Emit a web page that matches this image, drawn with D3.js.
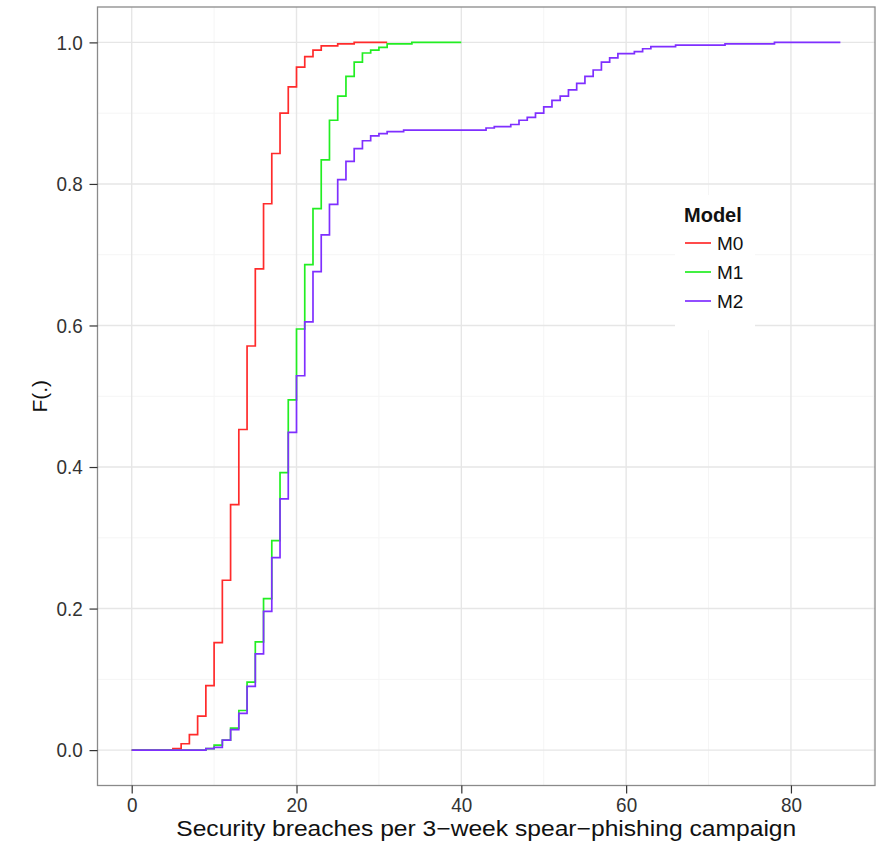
<!DOCTYPE html>
<html lang="en">
<head>
<meta charset="utf-8">
<title>ECDF of security breaches</title>
<script src="https://d3js.org/d3.v7.min.js"></script>
<style>
  body { margin: 0; background: #fff; }
  svg text { font-family: "Liberation Sans", Arial, sans-serif; }
  .axis path { display: none; }
  .axis line { stroke: #333; stroke-width: 1.2px; }
  .axis text { fill: #333; font-size: 21px; }
  .grid-major line { stroke: #e6e6e6; stroke-width: 1.4px; }
  .grid-minor line { stroke: #f5f5f5; stroke-width: 1px; }
  .ecdf { fill: none; stroke-width: 1.7px; }
</style>
</head>
<body>
<script>
// step positions (breaches) and cumulative proportions
const m0X = [0, 5, 6, 7, 8, 9, 10, 11, 12, 13, 14, 15, 16, 17, 18, 19, 20, 21, 22, 23, 25, 27, 31];
const m0F = [0, 0.002, 0.009, 0.022, 0.048, 0.091, 0.152, 0.24, 0.347, 0.453, 0.571, 0.68, 0.772, 0.843, 0.9, 0.937, 0.965, 0.98, 0.989, 0.995, 0.998, 1.0, 1.0];

const m1X = [0, 9, 10, 11, 12, 13, 14, 15, 16, 17, 18, 19, 20, 21, 22, 23, 24, 25, 26, 27, 28, 29, 30, 31, 34, 40];
const m1F = [0, 0.002, 0.007, 0.014, 0.031, 0.056, 0.096, 0.153, 0.214, 0.296, 0.392, 0.495, 0.595, 0.686, 0.765, 0.834, 0.89, 0.924, 0.952, 0.972, 0.985, 0.989, 0.993, 0.998, 1.0, 1.0];

const m2X = [0, 9, 10, 11, 12, 13, 14, 15, 16, 17, 18, 19, 20, 21, 22, 23, 24, 25, 26, 27, 28, 29, 30, 31, 33,
             43, 44, 46, 47, 48, 49, 50, 51, 52, 53, 54, 55, 56, 57, 58, 59, 61, 62, 63, 66, 72, 78, 86];
const m2F = [0, 0.002, 0.004, 0.014, 0.029, 0.052, 0.09, 0.136, 0.196, 0.272, 0.355, 0.449, 0.529, 0.605, 0.676, 0.728, 0.771, 0.806, 0.832, 0.85, 0.861, 0.868, 0.871, 0.874, 0.876,
             0.879, 0.881, 0.884, 0.89, 0.894, 0.9, 0.909, 0.918, 0.924, 0.933, 0.942, 0.952, 0.961, 0.972, 0.978, 0.984, 0.987, 0.991, 0.994, 0.996, 0.998, 1.0, 1.0];

const models = ["M0", "M1", "M2"];
const colors = ["#ff2b2b", "#22ee22", "#7f2fff"];
const xTicks = [0, 20, 40, 60, 80];
const xMinor = [10, 30, 50, 70, 90];
const yTicks = [0, 0.2, 0.4, 0.6, 0.8, 1.0];
const yMinor = [0.1, 0.3, 0.5, 0.7, 0.9];

const w = 881, h = 844;
const padL = 97.5, padR = 875, padT = 7, padB = 785.5;

const series = [
  { name: models[0], color: colors[0], pts: m0X.map((x, i) => ({ x: x, f: m0F[i] })) },
  { name: models[1], color: colors[1], pts: m1X.map((x, i) => ({ x: x, f: m1F[i] })) },
  { name: models[2], color: colors[2], pts: m2X.map((x, i) => ({ x: x, f: m2F[i] })) }
];

const xScale = d3.scaleLinear().domain([-4.15, 90.2]).range([padL, padR]);
const yScale = d3.scaleLinear().domain([-0.05, 1.05]).range([padB, padT]);

const svg = d3.select("body").append("svg")
  .attr("width", w)
  .attr("height", h);

// grid lines
svg.append("g").attr("class", "grid-minor")
  .selectAll("line").data(xMinor).join("line")
  .attr("x1", d => xScale(d)).attr("x2", d => xScale(d))
  .attr("y1", padT).attr("y2", padB);
svg.append("g").attr("class", "grid-minor")
  .selectAll("line").data(yMinor).join("line")
  .attr("y1", d => yScale(d)).attr("y2", d => yScale(d))
  .attr("x1", padL).attr("x2", padR);
svg.append("g").attr("class", "grid-major")
  .selectAll("line").data(xTicks).join("line")
  .attr("x1", d => xScale(d)).attr("x2", d => xScale(d))
  .attr("y1", padT).attr("y2", padB);
svg.append("g").attr("class", "grid-major")
  .selectAll("line").data(yTicks).join("line")
  .attr("y1", d => yScale(d)).attr("y2", d => yScale(d))
  .attr("x1", padL).attr("x2", padR);

// step curves
const line = d3.line()
  .curve(d3.curveStepAfter)
  .x(d => xScale(d.x))
  .y(d => yScale(d.f));

svg.append("g")
  .selectAll("path").data(series).join("path")
  .attr("class", "ecdf")
  .attr("stroke", d => d.color)
  .attr("d", d => line(d.pts));

// legend
const lg = svg.append("g").attr("transform", "translate(675,195)");
lg.append("rect").attr("width", 80).attr("height", 135).attr("fill", "#fff");
lg.append("text").attr("x", 9).attr("y", 27)
  .attr("font-size", 20).attr("font-weight", "bold").attr("fill", "#111")
  .text("Model");
const items = lg.selectAll(".item").data(series).join("g")
  .attr("class", "item")
  .attr("transform", (d, i) => `translate(0,${48 + i * 29})`);
items.append("line")
  .attr("x1", 10).attr("x2", 36)
  .attr("stroke", d => d.color).attr("stroke-width", 1.7);
items.append("text").attr("x", 42).attr("y", 7)
  .attr("font-size", 19).attr("fill", "#111")
  .text(d => d.name);

// panel border
svg.append("rect")
  .attr("x", padL).attr("y", padT)
  .attr("width", padR - padL).attr("height", padB - padT)
  .attr("fill", "none").attr("stroke", "#8a8a8a").attr("stroke-width", 1.3);

// axes
const gx = svg.append("g").attr("class", "axis")
  .attr("transform", `translate(0,${padB})`)
  .call(d3.axisBottom(xScale).tickValues(xTicks).tickSize(8).tickPadding(4).tickFormat(d3.format("d")));
gx.selectAll("text").attr("transform", "scale(0.9,1)").attr("dy", "0.71em");

const gy = svg.append("g").attr("class", "axis")
  .attr("transform", `translate(${padL},0)`)
  .call(d3.axisLeft(yScale).tickValues(yTicks).tickSize(8).tickPadding(7).tickFormat(d3.format(".1f")));
gy.selectAll("text").attr("x", -16.5).attr("transform", "scale(0.9,1)");

// axis titles
svg.append("text")
  .attr("x", (padL + padR) / 2).attr("y", 836)
  .attr("text-anchor", "middle").attr("font-size", 22).attr("fill", "#111")
  .attr("textLength", 620).attr("lengthAdjust", "spacingAndGlyphs")
  .text("Security breaches per 3\u2212week spear\u2212phishing campaign");

svg.append("text")
  .attr("transform", `translate(47,${(padT + padB) / 2}) rotate(-90)`)
  .attr("text-anchor", "middle").attr("font-size", 21).attr("fill", "#111")
  .text("F(.)");
</script>
</body>
</html>
